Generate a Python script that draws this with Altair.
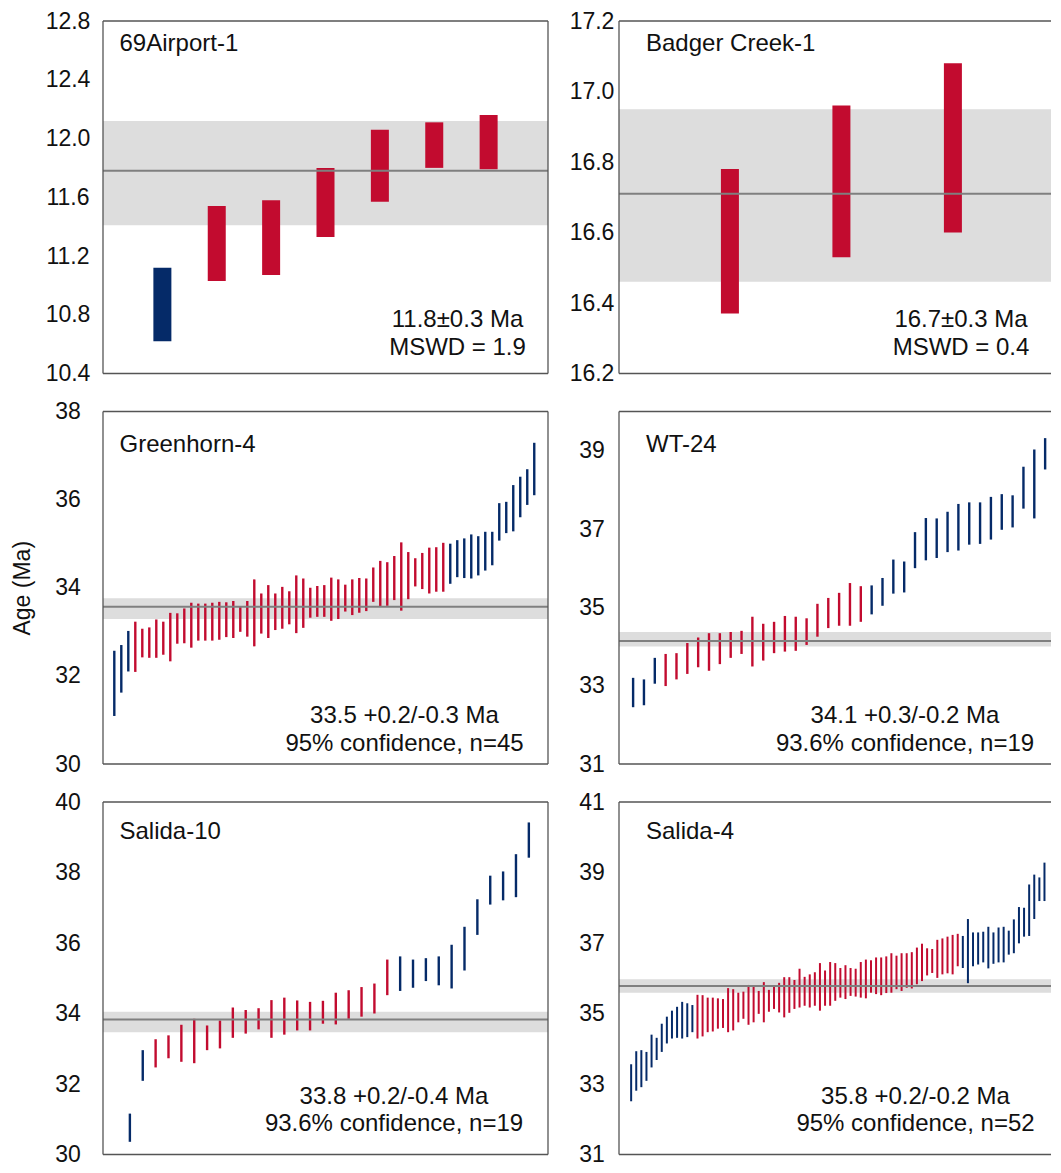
import altair as alt
import pandas as pd

FONT = "Liberation Sans"
RED = "#C20B2F"
BLUE = "#052A68"
BAND_COLOR = "#DDDDDD"
LINE_COLOR = "#7F7F7F"
FRAME_COLOR = "#555555"
TEXT_COLOR = "#111111"

W_LEFT, W_RIGHT, H = 445, 432, 352.5

# ---------------- data ----------------
# 69Airport-1
A69_LO = [10.62, 11.03, 11.07, 11.33, 11.57, 11.80, 11.79]
A69_HI = [11.12, 11.54, 11.58, 11.80, 12.06, 12.11, 12.16]
A69_GRP = ["out"] * 1 + ["in"] * 6
A69_MEAN, A69_BAND_LO, A69_BAND_HI = 11.78, 11.41, 12.12

# Badger Creek-1
BC_LO = [16.37, 16.53, 16.60]
BC_HI = [16.78, 16.96, 17.08]
BC_GRP = ["in"] * 3
BC_MEAN, BC_BAND_LO, BC_BAND_HI = 16.71, 16.46, 16.95

# Greenhorn-4
GH_LO = [31.09, 31.62, 32.10, 32.09, 32.42, 32.41, 32.41, 32.48, 32.33, 32.73,
         32.74, 32.64, 32.80, 32.80, 32.80, 32.82, 32.88, 32.86, 33.00, 32.89,
         32.67, 32.96, 32.86, 33.04, 33.07, 33.17, 32.97, 33.09, 33.32, 33.34,
         33.34, 33.25, 33.29, 33.46, 33.38, 33.43, 33.47, 33.68, 33.57, 33.59,
         33.72, 33.48, 33.74, 34.03, 33.97, 33.87, 33.91, 33.91, 34.09, 34.24,
         34.22, 34.21, 34.28, 34.39, 34.51, 35.07, 35.24, 35.28, 35.60, 35.88,
         36.10]
GH_HI = [32.57, 32.70, 33.02, 33.23, 33.07, 33.10, 33.28, 33.23, 33.43, 33.42,
         33.53, 33.66, 33.64, 33.64, 33.66, 33.68, 33.67, 33.70, 33.57, 33.70,
         34.19, 33.87, 34.06, 33.87, 34.02, 33.92, 34.28, 34.21, 34.00, 34.04,
         34.06, 34.23, 34.19, 34.07, 34.19, 34.22, 34.21, 34.46, 34.61, 34.58,
         34.72, 35.03, 34.81, 34.67, 34.79, 34.91, 34.92, 35.02, 35.00, 35.08,
         35.12, 35.21, 35.17, 35.27, 35.27, 35.92, 35.95, 36.33, 36.52, 36.69,
         37.29]
GH_GRP = ["out"] * 3 + ["in"] * 45 + ["out"] * 13
GH_MEAN, GH_BAND_LO, GH_BAND_HI = 33.57, 33.29, 33.76

# WT-24
WT_LO = [32.45, 32.50, 33.05, 32.99, 33.16, 33.30, 33.47, 33.38, 33.55, 33.71,
         33.81, 33.49, 33.64, 33.83, 33.87, 33.89, 34.04, 34.25, 34.47, 34.53,
         34.53, 34.63, 34.82, 35.04, 35.35, 35.38, 36.00, 36.20, 36.26, 36.41,
         36.45, 36.60, 36.62, 36.73, 36.98, 37.04, 37.52, 37.27, 38.52]
WT_HI = [33.20, 33.16, 33.71, 33.81, 33.83, 34.09, 34.23, 34.34, 34.34, 34.37,
         34.40, 34.76, 34.58, 34.63, 34.78, 34.76, 34.72, 35.09, 35.24, 35.37,
         35.62, 35.54, 35.56, 35.75, 36.22, 36.17, 36.92, 37.28, 37.27, 37.44,
         37.64, 37.68, 37.68, 37.82, 37.89, 37.86, 38.59, 39.03, 39.32]
WT_GRP = ["out"] * 3 + ["in"] * 19 + ["out"] * 17
WT_MEAN, WT_BAND_LO, WT_BAND_HI = 34.14, 34.00, 34.37

# Salida-10
S10_LO = [30.36, 32.09, 32.47, 32.73, 32.63, 32.59, 32.96, 33.01, 33.31, 33.43,
          33.55, 33.31, 33.40, 33.52, 33.52, 33.71, 33.69, 33.85, 33.91, 34.00,
          34.52, 34.64, 34.73, 34.92, 34.80, 34.71, 35.22, 36.23, 37.09, 37.21,
          37.30, 38.42]
S10_HI = [31.16, 32.96, 33.27, 33.38, 33.68, 33.85, 33.66, 33.80, 34.17, 34.10,
          34.15, 34.38, 34.45, 34.37, 34.33, 34.36, 34.59, 34.66, 34.75, 34.85,
          35.53, 35.62, 35.53, 35.57, 35.62, 35.95, 36.46, 37.24, 37.91, 38.03,
          38.52, 39.42]
S10_GRP = ["out"] * 2 + ["in"] * 19 + ["out"] * 11
S10_MEAN, S10_BAND_LO, S10_BAND_HI = 33.83, 33.47, 34.05

# Salida-4
S4_LO = [32.51, 32.81, 32.91, 33.09, 33.47, 33.68, 33.91, 34.15, 34.29, 34.31,
         34.29, 34.33, 34.47, 34.29, 34.35, 34.47, 34.49, 34.57, 34.59, 34.47,
         34.52, 34.75, 34.85, 34.68, 34.75, 34.99, 34.75, 35.05, 35.13, 35.03,
         34.89, 35.02, 35.13, 35.17, 35.22, 35.17, 35.22, 35.08, 35.22, 35.22,
         35.36, 35.45, 35.41, 35.50, 35.48, 35.45, 35.43, 35.59, 35.55, 35.52,
         35.58, 35.59, 35.69, 35.64, 35.73, 35.71, 35.83, 35.92, 36.08, 36.15,
         36.01, 36.11, 36.14, 36.11, 36.34, 36.29, 35.86, 36.34, 36.39, 36.45,
         36.28, 36.41, 36.45, 36.45, 36.67, 36.71, 36.99, 37.18, 37.20, 37.68,
         38.19, 38.19]
S4_HI = [33.56, 33.93, 33.96, 33.91, 34.40, 34.31, 34.71, 34.91, 35.08, 35.19,
         35.33, 35.29, 35.24, 35.53, 35.52, 35.45, 35.45, 35.43, 35.41, 35.72,
         35.69, 35.59, 35.62, 35.81, 35.78, 35.64, 35.89, 35.67, 35.80, 35.87,
         36.03, 36.03, 35.95, 36.27, 36.04, 36.11, 36.17, 36.43, 36.22, 36.46,
         36.43, 36.29, 36.37, 36.29, 36.27, 36.46, 36.53, 36.51, 36.59, 36.59,
         36.62, 36.71, 36.64, 36.71, 36.71, 36.74, 36.87, 36.98, 36.85, 36.83,
         37.09, 37.13, 37.18, 37.23, 37.26, 37.20, 37.68, 37.30, 37.30, 37.32,
         37.46, 37.30, 37.44, 37.46, 37.35, 37.67, 38.02, 38.00, 38.66, 38.94,
         38.86, 39.28]
S4_GRP = ["out"] * 13 + ["in"] * 52 + ["out"] * 17
S4_MEAN, S4_BAND_LO, S4_BAND_HI = 35.78, 35.59, 35.97

TICKS_A69 = [10.4, 10.8, 11.2, 11.6, 12.0, 12.4, 12.8]
TICKS_BC = [16.2, 16.4, 16.6, 16.8, 17.0, 17.2]
TICKS_GH = [30, 32, 34, 36, 38]
TICKS_WT = [31, 33, 35, 37, 39]
TICKS_S10 = [30, 32, 34, 36, 38, 40]
TICKS_S4 = [31, 33, 35, 37, 39, 41]


def one_row(**kw):
    return pd.DataFrame({k: [v] for k, v in kw.items()})


def text_layer(txt, x, y, align, size=24):
    return alt.Chart(one_row(t=txt)).mark_text(
        align=align, baseline="alphabetic", font=FONT, fontSize=size,
        color=TEXT_COLOR
    ).encode(text="t:N", x=alt.value(x), y=alt.value(y))


def frame_layers(w, right_side):
    rule = dict(color=FRAME_COLOR, strokeWidth=1.3)
    d = one_row(k=0)
    out = [
        alt.Chart(d).mark_rule(**rule).encode(x=alt.value(0), y=alt.value(0), y2=alt.value(H)),
        alt.Chart(d).mark_rule(**rule).encode(x=alt.value(0), x2=alt.value(w), y=alt.value(0)),
        alt.Chart(d).mark_rule(**rule).encode(x=alt.value(0), x2=alt.value(w), y=alt.value(H)),
    ]
    if right_side:
        out.append(alt.Chart(d).mark_rule(**rule).encode(
            x=alt.value(w), y=alt.value(0), y2=alt.value(H)))
    return out


def panel(name, lo, hi, grp, mean, band_lo, band_hi, ydom, yticks, yfmt,
          xdom, barsize, w, right_border, label_pad, title_x, title_y,
          note1, note2, note_cx, note_up1, note_up2, axis_title=None):
    n = len(lo)
    df = pd.DataFrame({"idx": list(range(1, n + 1)), "lo": lo, "hi": hi, "grp": grp})
    yscale = alt.Scale(domain=ydom, nice=False, zero=False)
    xscale = alt.Scale(domain=xdom, nice=False, zero=False)
    axis_kw = dict(values=yticks, format=yfmt, grid=False, ticks=False, domain=False,
                   labelAlign="center", labelBaseline="middle", labelPadding=label_pad,
                   labelFontSize=23, labelFont=FONT, labelColor=TEXT_COLOR,
                   labelFlush=False, labelOverlap=False)
    if axis_title:
        axis_kw.update(title=axis_title, titleFont=FONT, titleFontSize=23,
                       titleFontWeight="normal", titleColor=TEXT_COLOR,
                       titleAngle=270, titleX=-74, titleY=H / 2,
                       titleAlign="center", titleBaseline="alphabetic")
    else:
        axis_kw.update(title="")
    yaxis = alt.Axis(**axis_kw)

    band = alt.Chart(one_row(b0=band_lo, b1=band_hi)).mark_rect(color=BAND_COLOR).encode(
        x=alt.value(0), x2=alt.value(w),
        y=alt.Y("b0:Q", scale=yscale, axis=yaxis), y2="b1:Q")

    bars = alt.Chart(df).mark_bar(size=barsize).encode(
        x=alt.X("idx:Q", scale=xscale, axis=None),
        y=alt.Y("lo:Q", scale=yscale, axis=yaxis), y2="hi:Q",
        color=alt.Color("grp:N", scale=alt.Scale(domain=["in", "out"], range=[RED, BLUE]),
                        legend=None))

    line = alt.Chart(one_row(m=mean)).mark_rule(
        color=LINE_COLOR, strokeWidth=2).encode(
        y=alt.Y("m:Q", scale=yscale, axis=yaxis))

    layers = [band, bars, line,
              text_layer(name, title_x, title_y, "left"),
              text_layer(note1, note_cx, H - note_up1, "center"),
              text_layer(note2, note_cx, H - note_up2, "center")]
    layers += frame_layers(w, right_border)
    return alt.layer(*layers).properties(width=w, height=H)


p_a69 = panel("69Airport-1", A69_LO, A69_HI, A69_GRP, A69_MEAN, A69_BAND_LO, A69_BAND_HI,
              [10.4, 12.8], TICKS_A69, ".1f", [0, 8], 18, W_LEFT, True, 35.5, 16.5, 30,
              "11.8±0.3 Ma", "MSWD = 1.9", 354.5, 47, 19)
p_bc = panel("Badger Creek-1", BC_LO, BC_HI, BC_GRP, BC_MEAN, BC_BAND_LO, BC_BAND_HI,
             [16.2, 17.2], TICKS_BC, ".1f", [0.05, 3.835], 18, W_RIGHT, False, 27.5, 27, 30,
             "16.7±0.3 Ma", "MSWD = 0.4", 342, 47, 19)
p_gh = panel("Greenhorn-4", GH_LO, GH_HI, GH_GRP, GH_MEAN, GH_BAND_LO, GH_BAND_HI,
             [30, 38], TICKS_GH, "d", [0.1, 62.25], 2.4, W_LEFT, True, 35.5, 16.5, 40,
             "33.5 +0.2/-0.3 Ma", "95% confidence, n=45", 301.5, 41, 13,
             axis_title="Age (Ma)")
p_wt = panel("WT-24", WT_LO, WT_HI, WT_GRP, WT_MEAN, WT_BAND_LO, WT_BAND_HI,
             [31, 40], TICKS_WT, "d", [0.16, 39.08], 2.4, W_RIGHT, False, 27.5, 27, 40,
             "34.1 +0.3/-0.2 Ma", "93.6% confidence, n=19", 286, 41, 13)
p_s10 = panel("Salida-10", S10_LO, S10_HI, S10_GRP, S10_MEAN, S10_BAND_LO, S10_BAND_HI,
              [30, 40], TICKS_S10, "d", [-0.7, 33.1], 2.4, W_LEFT, True, 35.5, 16.5, 37,
              "33.8 +0.2/-0.4 Ma", "93.6% confidence, n=19", 291, 51, 24)
p_s4 = panel("Salida-4", S4_LO, S4_HI, S4_GRP, S4_MEAN, S4_BAND_LO, S4_BAND_HI,
             [31, 41], TICKS_S4, "d", [-0.4, 82.3], 2.0, W_RIGHT, False, 27.5, 27, 37,
             "35.8 +0.2/-0.2 Ma", "95% confidence, n=52", 296.5, 51, 24)

chart = alt.concat(
    p_a69, p_bc, p_gh, p_wt, p_s10, p_s4,
    columns=2, spacing={"row": 37.5, "column": 71}, bounds="flush"
).properties(
    padding={"top": 2, "left": 3, "right": 0, "bottom": 0},
    background="white"
).configure_view(
    strokeWidth=0
)

chart.save("out.html", embed_options={"renderer": "svg", "actions": False})
